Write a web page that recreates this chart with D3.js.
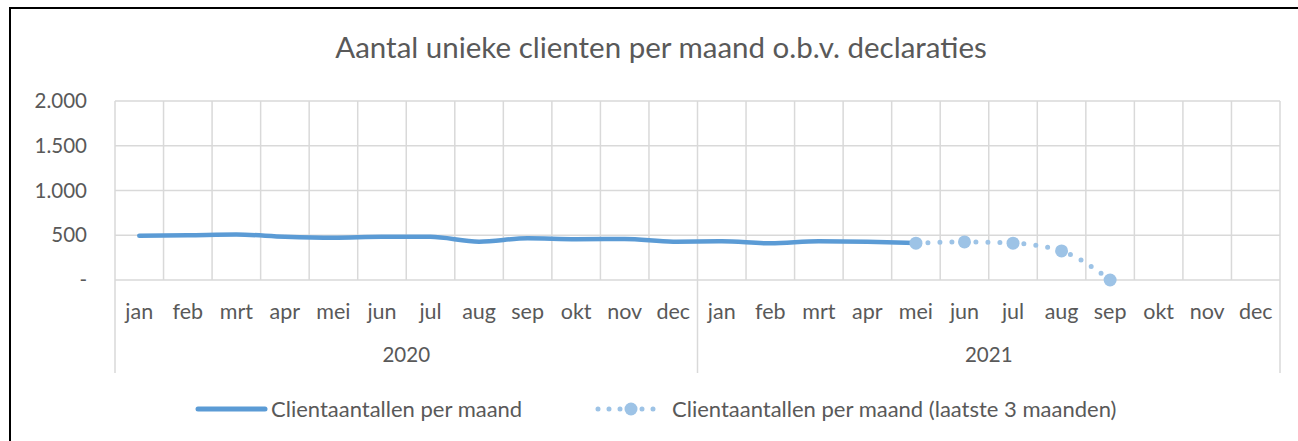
<!DOCTYPE html>
<html>
<head>
<meta charset="utf-8">
<script src="https://cdn.jsdelivr.net/npm/d3@7"></script>
<style>
  body { margin: 0; background: #fff; }
  text { font-family: Lato, "Open Sans", sans-serif; fill: #595959; }
</style>
</head>
<body>
<div id="chart"></div>
<script>
var months = ["jan","feb","mrt","apr","mei","jun","jul","aug","sep","okt","nov","dec"];
var years = ["2020","2021"];
var yTicks = [0, 500, 1000, 1500, 2000];

// Clientaantallen per maand (jan 2020 - mei 2021)
var clients = [495, 500, 508, 484, 473, 484, 482, 428, 466, 455, 458, 428,
               432, 410, 434, 428, 412];
// laatste 3 maanden (mei 2021 - sep 2021)
var recentStart = 16;
var recent = [412, 425, 412, 325, 0];

function init()
{
  var W = 1298, H = 441;
  var left = 115, right = 1280, top = 101, bottom = 280;

  var svg = d3.select("#chart").append("svg")
    .attr("width", W)
    .attr("height", H);

  // chart frame
  svg.append("rect")
    .attr("x", 10).attr("y", 8)
    .attr("width", 1300).attr("height", 450)
    .style("fill", "white")
    .style("stroke", "#000")
    .style("stroke-width", 2);

  var cats = [];
  years.forEach(function(y) { months.forEach(function(m) { cats.push(y + "-" + m); }); });

  var xScale = d3.scaleBand().domain(cats).range([left, right]);
  var yScale = d3.scaleLinear().domain([0, 2000]).range([bottom, top]);
  var bw = xScale.bandwidth();

  var grid = svg.append("g").style("stroke", "#d9d9d9").style("stroke-width", 1.5);

  // horizontal gridlines
  grid.selectAll(".hg").data(yTicks).enter().append("line")
    .attr("x1", left).attr("x2", right)
    .attr("y1", function(d) { return yScale(d); })
    .attr("y2", function(d) { return yScale(d); });

  // vertical gridlines, year separators run down through the labels
  grid.selectAll(".vg").data(cats.concat(["end"])).enter().append("line")
    .attr("x1", function(d, i) { return left + i * bw; })
    .attr("x2", function(d, i) { return left + i * bw; })
    .attr("y1", top)
    .attr("y2", function(d, i) { return (i % 12 === 0) ? 373 : bottom; });

  // y axis labels
  var yFmt = function(d) { return d === 0 ? "-" : d3.format(",")(d).replace(",", "."); };
  svg.selectAll(".ylab").data(yTicks).enter().append("text")
    .attr("x", 87)
    .attr("y", function(d) { return yScale(d); })
    .attr("dy", "0.35em")
    .style("text-anchor", "end")
    .style("font-size", "20.5px")
    .text(yFmt);

  // month labels
  svg.selectAll(".mlab").data(cats).enter().append("text")
    .attr("x", function(d) { return xScale(d) + bw / 2; })
    .attr("y", 311)
    .attr("dy", "0.35em")
    .style("text-anchor", "middle")
    .style("font-size", "21.5px")
    .text(function(d) { return d.split("-")[1]; });

  // year labels
  svg.selectAll(".ylbl").data(years).enter().append("text")
    .attr("x", function(d, i) { return left + (i * 12 + 6) * bw; })
    .attr("y", 355)
    .attr("dy", "0.35em")
    .style("text-anchor", "middle")
    .style("font-size", "20.5px")
    .text(function(d) { return d; });

  // solid series
  var line = d3.line()
    .x(function(d, i) { return xScale(cats[i]) + bw / 2; })
    .y(function(d) { return yScale(d); })
    .curve(d3.curveMonotoneX);

  svg.append("path")
    .datum(clients)
    .attr("d", line)
    .style("fill", "none")
    .style("stroke", "#5b9bd5")
    .style("stroke-width", 4.5)
    .style("stroke-linecap", "round");

  // dotted series
  var line2 = d3.line()
    .x(function(d, i) { return xScale(cats[recentStart + i]) + bw / 2; })
    .y(function(d) { return yScale(d); })
    .curve(d3.curveMonotoneX);

  svg.append("path")
    .datum(recent)
    .attr("d", line2)
    .style("fill", "none")
    .style("stroke", "#9dc3e6")
    .style("stroke-width", 5)
    .style("stroke-linecap", "round")
    .style("stroke-dasharray", "0 12");

  svg.selectAll(".mk").data(recent).enter().append("circle")
    .attr("cx", function(d, i) { return xScale(cats[recentStart + i]) + bw / 2; })
    .attr("cy", function(d) { return yScale(d); })
    .attr("r", 6.5)
    .style("fill", "#9dc3e6");

  // title
  svg.append("text")
    .attr("x", 661)
    .attr("y", 48)
    .attr("dy", "0.35em")
    .style("text-anchor", "middle")
    .style("font-size", "29.5px")
    .text("Aantal unieke clienten per maand o.b.v. declaraties");

  // legend
  var legend = svg.append("g");
  legend.append("line")
    .attr("x1", 198).attr("x2", 265).attr("y1", 409).attr("y2", 409)
    .style("stroke", "#5b9bd5").style("stroke-width", 5).style("stroke-linecap", "round");
  legend.append("text")
    .attr("x", 271).attr("y", 409).attr("dy", "0.35em")
    .style("font-size", "22px")
    .text("Clientaantallen per maand");

  legend.append("line")
    .attr("x1", 598).attr("x2", 663).attr("y1", 409).attr("y2", 409)
    .style("stroke", "#9dc3e6").style("stroke-width", 5).style("stroke-linecap", "round")
    .style("stroke-dasharray", "0 11");
  legend.append("circle")
    .attr("cx", 631).attr("cy", 409).attr("r", 6.5)
    .style("fill", "#9dc3e6");
  legend.append("text")
    .attr("x", 672).attr("y", 409).attr("dy", "0.35em")
    .style("font-size", "22px")
    .text("Clientaantallen per maand (laatste 3 maanden)");
}

window.onload = init;
</script>
</body>
</html>
